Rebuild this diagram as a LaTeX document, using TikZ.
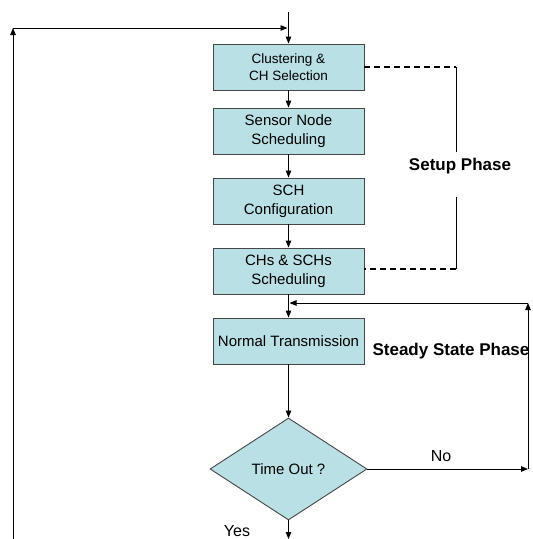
\documentclass[tikz,border=0pt]{standalone}
\usepackage{fontspec}
\setmainfont{Liberation Sans}
\usepackage{tikz}
\usetikzlibrary{arrows.meta,positioning,calc,shapes.geometric}
\definecolor{stageFill}{RGB}{185,224,228}
\definecolor{stageLine}{RGB}{70,70,70}
\tikzset{
  stage node/.style={draw=stageLine,fill=stageFill,line width=0.9pt,align=center,font=\fontsize{15}{19}\selectfont,minimum width=151pt,minimum height=46pt,inner sep=1pt},
  decision node/.style={diamond,aspect=1.54,draw=stageLine,fill=stageFill,line width=0.9pt,align=center,font=\fontsize{15}{18}\selectfont,minimum width=157pt,minimum height=102pt,inner sep=0pt},
  flow arrow/.style={-{Triangle[length=7pt,width=5.5pt]},line width=0.9pt,draw=black},
  phase link/.style={line width=1.4pt,dash pattern=on 6pt off 4pt},
  phase rail/.style={line width=0.8pt},
  phase label/.style={font=\fontsize{17}{20}\bfseries\selectfont},
  branch label/.style={font=\fontsize{16}{18}\selectfont}
}
\begin{document}
\begin{tikzpicture}[x=1pt,y=-1pt]
      \useasboundingbox (0,0) rectangle (533,539);
      \node[stage node,font=\fontsize{13.5}{17}\selectfont] (clust) at (288.5,67) {Clustering \&\\CH Selection};
      \node[stage node] (sensor) at (288.5,131) {Sensor Node\\Scheduling};
      \node[stage node] (schconf) at (288.5,201) {SCH\\Configuration};
      \node[stage node] (sched) at (288.5,271) {CHs \& SCHs\\Scheduling};
      \node[stage node] (trans) at (288.5,341) {Normal Transmission};
      \node[decision node] (timeout) at (288.5,469) {Time Out ?};
      \node[phase label] (setup) at (460,166) {Setup Phase};
      \node[phase label] (steady) at (451,351) {Steady State Phase};
      \node[branch label] (no) at (441,456) {No};
      \node[branch label] (yes) at (237,531) {Yes};
      \coordinate (entry) at (288.5,12);
      \coordinate (loopTop) at (13,28);
      \coordinate (loopBot) at (13,539);
      \coordinate (noEnd) at (528,469);
      \coordinate (steadyTop) at (528,303);
      \coordinate (exit) at (288.5,539);
      \coordinate (setupA) at (456,67);
      \coordinate (setupB) at (456,152);
      \coordinate (setupC) at (456,197);
      \coordinate (setupD) at (456,269);
      % main flow
      \draw[flow arrow] (entry) -- (clust);
      \draw[flow arrow] (clust) -- (sensor);
      \draw[flow arrow] (sensor) -- (schconf);
      \draw[flow arrow] (schconf) -- (sched);
      \draw[flow arrow] (sched) -- (trans);
      \draw[flow arrow] (trans) -- (timeout);
      \draw[flow arrow] (timeout) -- (exit);
      % loops back
      \draw[flow arrow] (loopBot) -- (loopTop);
      \draw[flow arrow] (loopTop) -- ($(loopTop -| entry)+(-1,0)$);
      \draw[flow arrow] (timeout.east) -- (noEnd);
      \draw[flow arrow] (noEnd) -- (steadyTop);
      \draw[flow arrow] (steadyTop) -- ($(steadyTop -| trans)+(1,0)$);
      % setup phase bracket
      \draw[phase link] (clust.east) -- (setupA);
      \draw[phase rail] (setupA) -- (setupB);
      \draw[phase rail] (setupC) -- (setupD);
      \draw[phase link] (setupD) -- (setupD -| sched.east);
    \end{tikzpicture}
\end{document}
